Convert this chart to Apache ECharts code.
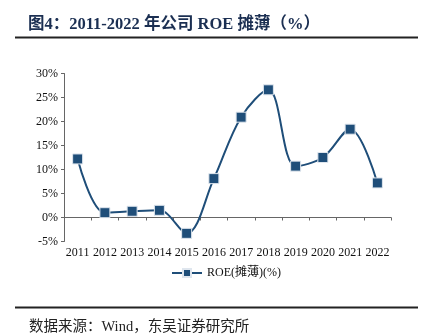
<!DOCTYPE html>
<html>
<head>
<meta charset="utf-8">
<script src="https://cdn.jsdelivr.net/npm/echarts@6/dist/echarts.min.js"></script>
<style>
  html, body { margin: 0; padding: 0; background: #fff; }
  #chart { width: 425px; height: 335px; }
</style>
</head>
<body>
<div id="chart"></div>
<script>
// Years on the category axis
const years = ['2011', '2012', '2013', '2014', '2015', '2016', '2017', '2018', '2019', '2020', '2021', '2022'];
// Diluted ROE, percent
const roeDiluted = [12.2, 1.0, 1.3, 1.5, -3.3, 8.1, 20.9, 26.6, 10.7, 12.5, 18.4, 7.2];
// Value axis range, percent
const yMin = -5;
const yMax = 30;
const yStep = 5;

const serif = '"Liberation Serif", "Times New Roman", "Noto Sans CJK SC", serif';
const navy = '#1f4e79';

const chart = echarts.init(document.getElementById('chart'), null, { renderer: 'canvas' });
chart.setOption({
  animation: false,
  backgroundColor: '#fff',
  title: [
    {
      text: '图4：2011-2022 年公司 ROE 摊薄（%）',
      left: 23, top: 11,
      textStyle: { fontFamily: serif, fontSize: 16.5, fontWeight: 'bold', color: '#1b2f52' }
    },
    {
      text: '数据来源：Wind，东吴证券研究所',
      left: 24, top: 315,
      textStyle: { fontFamily: serif, fontSize: 14.5, fontWeight: 'normal', color: '#222' }
    }
  ],
  graphic: [
    { type: 'line', shape: { x1: 15, y1: 37.5, x2: 418, y2: 37.5 }, style: { stroke: '#222', lineWidth: 2 } },
    { type: 'line', shape: { x1: 15, y1: 307.5, x2: 418, y2: 307.5 }, style: { stroke: '#222', lineWidth: 2 } }
  ],
  legend: {
    data: ['ROE(摊薄)(%)'],
    left: 166, top: 262,
    itemWidth: 30, itemHeight: 10,
    itemGap: 4,
    textStyle: { fontFamily: serif, fontSize: 12, color: '#111' }
  },
  grid: { left: 64, right: 34, top: 73.5, bottom: 93.5, containLabel: false },
  xAxis: {
    type: 'category',
    data: years,
    boundaryGap: true,
    axisLine: { onZero: true, lineStyle: { color: '#666', width: 1 } },
    axisTick: { show: true, inside: false, length: 3, lineStyle: { color: '#666' } },
    axisLabel: { fontFamily: serif, fontSize: 12, color: '#111', margin: 5, interval: 0 },
    splitLine: { show: false }
  },
  yAxis: {
    type: 'value',
    min: yMin, max: yMax, interval: yStep,
    axisLine: { show: true, lineStyle: { color: '#666', width: 1 } },
    axisTick: { show: true, inside: false, length: 3, lineStyle: { color: '#666' } },
    axisLabel: { fontFamily: serif, fontSize: 12, color: '#111', margin: 6, formatter: v => v + '%' },
    splitLine: { show: false }
  },
  series: [{
    name: 'ROE(摊薄)(%)',
    type: 'line',
    data: roeDiluted,
    smooth: 0.35,
    symbol: 'rect',
    symbolSize: 10,
    lineStyle: { color: navy, width: 2 },
    itemStyle: { color: navy, borderColor: '#dfe6ee', borderWidth: 1 }
  }]
});
</script>
</body>
</html>
